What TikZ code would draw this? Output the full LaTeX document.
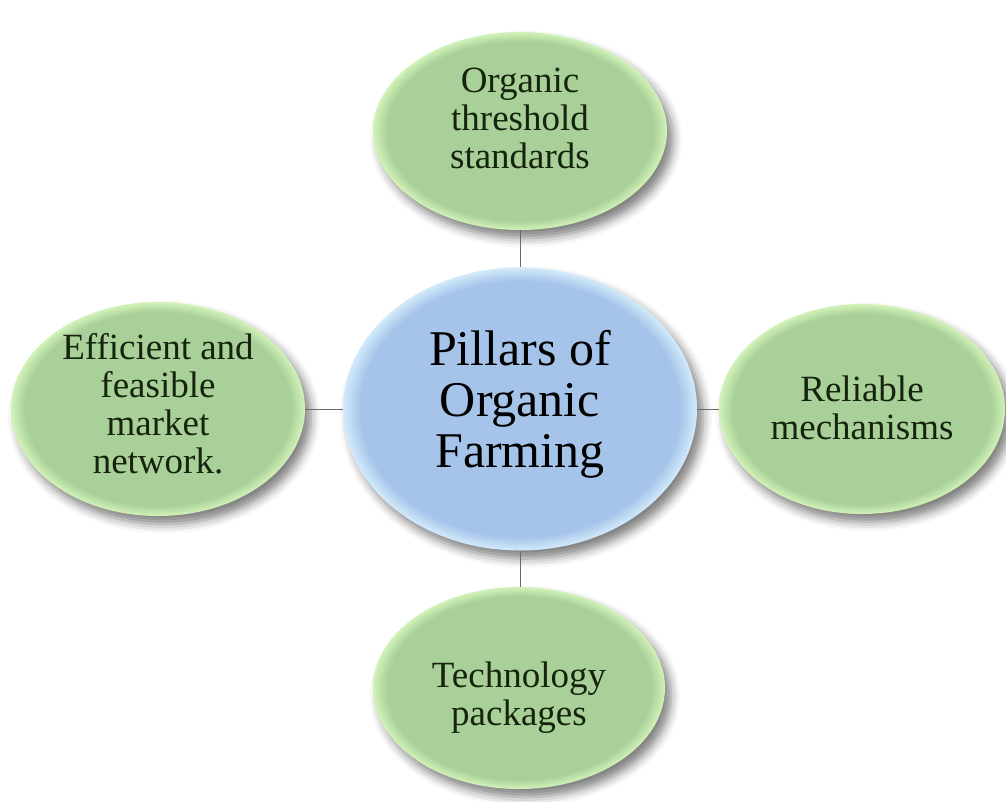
\documentclass[tikz,border=0pt]{standalone}
\usepackage{fontspec}
\setmainfont{Liberation Serif}
\usetikzlibrary{shapes.geometric,shadows.blur}
\definecolor{gmain}{HTML}{A8D098}
\definecolor{gedge}{HTML}{D2F2B8}
\definecolor{bmain}{HTML}{A6C4EA}
\definecolor{bedge}{HTML}{D2EAFA}
\definecolor{gtext}{HTML}{16240E}
\definecolor{conncol}{HTML}{6A6A6A}
\pgfdeclareradialshading{greenglow}{\pgfpoint{0bp}{0bp}}{color(0bp)=(gmain); color(22.6bp)=(gmain); color(25bp)=(gedge); color(50bp)=(gedge)}
\pgfdeclareradialshading{blueglow}{\pgfpoint{0bp}{0bp}}{color(0bp)=(bmain); color(22.6bp)=(bmain); color(25bp)=(bedge); color(50bp)=(bedge)}
\tikzset{
  shadowed/.style={blur shadow={shadow xshift=6pt, shadow yshift=-8pt, shadow blur radius=9pt, shadow opacity=50}},
  pillar/.style={ellipse, inner sep=0pt, shading=greenglow, shadowed},
  hub/.style={ellipse, inner sep=0pt, shading=blueglow, shadowed},
  ptext/.style={font=\fontsize{37}{38}\selectfont, align=center, text=gtext, inner sep=0pt},
  htext/.style={font=\fontsize{50}{51}\selectfont, align=center, text=black, inner sep=0pt},
  conn/.style={draw=conncol, line width=0.9pt}
}
\begin{document}
\begin{tikzpicture}[x=1pt,y=-1pt]
\useasboundingbox (0,0) rectangle (1006,801);
\node[hub, minimum width=354pt, minimum height=283pt] (cen) at (520,409) {};
\node[pillar, minimum width=294pt, minimum height=198pt] (top) at (520,131) {};
\node[pillar, minimum width=294pt, minimum height=214pt] (left) at (158,409) {};
\node[pillar, minimum width=286pt, minimum height=210pt] (right) at (862,409) {};
\node[pillar, minimum width=292pt, minimum height=202pt] (bot) at (519,688) {};
\draw[conn] (top.south) -- (top.south |- cen.north);
\draw[conn] (left.east) -- (cen.west);
\draw[conn] (cen.east) -- (right.west);
\draw[conn] (cen.south) -- (cen.south |- bot.north);
\node[htext] (cent) at ([yshift=5pt]cen.center) {Pillars of\\Organic\\Farming};
\node[ptext] (topt) at ([yshift=13pt]top.center) {Organic\\threshold\\standards};
\node[ptext] (leftt) at ([yshift=5pt]left.center) {Efficient and\\feasible\\market\\network.};
\node[ptext] (rightt) at ([yshift=1pt]right.center) {Reliable\\mechanisms};
\node[ptext] (bott) at ([yshift=-10pt]bot.center) {Technology\\packages};
\end{tikzpicture}
\end{document}
